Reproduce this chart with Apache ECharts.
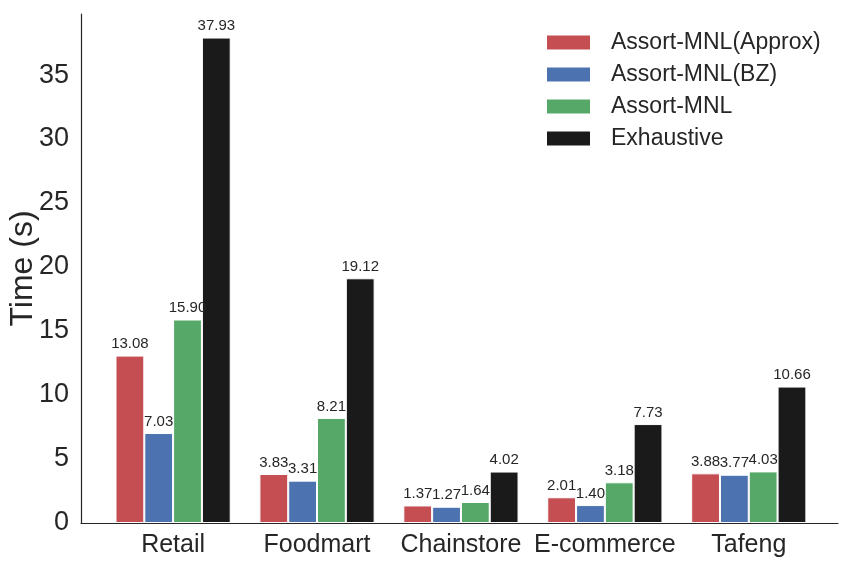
<!DOCTYPE html>
<html><head><meta charset="utf-8">
<script src="https://cdn.jsdelivr.net/npm/echarts@6/dist/echarts.min.js"></script>
<style>html,body{margin:0;padding:0;background:#fff}#c{width:852px;height:564px}</style>
</head><body><div id="c"></div>
<script>
const categories = ['Retail','Foodmart','Chainstore','E-commerce','Tafeng'];
const approx = [13.08, 3.83, 1.37, 2.01, 3.88];
const bz = [7.03, 3.31, 1.27, 1.40, 3.77];
const mnl = [15.90, 8.21, 1.64, 3.18, 4.03];
const exhaustive = [37.93, 19.12, 4.02, 7.73, 10.66];
const seriesNames = ['Assort-MNL(Approx)','Assort-MNL(BZ)','Assort-MNL','Exhaustive'];
const colors = ['#C44E52','#4C72B0','#55A868','#1A1A1A'];
const yTicks = [0,5,10,15,20,25,30,35];

const font = 'Liberation Sans, Arial, sans-serif';
const chart = echarts.init(document.getElementById('c'));
const allData = [approx, bz, mnl, exhaustive];
chart.setOption({
  animation: false,
  textStyle: {fontFamily: font},
  legend: {
    top: 31, left: 545, orient: 'vertical', padding: 0,
    icon: 'rect', itemWidth: 45, itemHeight: 16, itemGap: 9,
    textStyle: {fontSize: 23, color: '#262626', fontFamily: font, padding: [0,0,0,15]},
    data: seriesNames
  },
  grid: {left: 81, right: 14, top: 14, bottom: 41, outerBoundsMode: 'none', containLabel: false},
  xAxis: {
    type: 'value', min: -0.64, max: 4.62,
    splitLine: {show: false},
    axisLine: {show: true, onZero: false, lineStyle: {color: '#262626', width: 1.2}},
    axisTick: {show: false},
    axisLabel: {
      customValues: [0,1,2,3,4],
      formatter: v => categories[Math.round(v)] || '',
      fontSize: 25, color: '#262626', margin: 10, fontFamily: font
    }
  },
  yAxis: {
    type: 'value', min: 0, max: 39.77,
    name: 'Time (s)', nameLocation: 'middle', nameGap: 42, nameMoveOverlap: false,
    nameTextStyle: {fontSize: 32, color: '#262626', fontFamily: font},
    splitLine: {show: false},
    axisLine: {show: true, onZero: false, lineStyle: {color: '#262626', width: 1.2}},
    axisTick: {show: false},
    axisLabel: {customValues: yTicks, fontSize: 27, color: '#262626', margin: 12, fontFamily: font}
  },
  series: seriesNames.map((n, i) => ({
    name: n, type: 'bar', barWidth: 28.8, barGap: '0%',
    itemStyle: {color: colors[i], borderColor: '#fff', borderWidth: 1},
    label: {show: true, position: 'top', distance: 4, fontSize: 15, color: '#262626', fontFamily: font,
      formatter: p => p.value[1].toFixed(2)},
    data: allData[i].map((v, j) => [j, v])
  }))
});
</script></body></html>
